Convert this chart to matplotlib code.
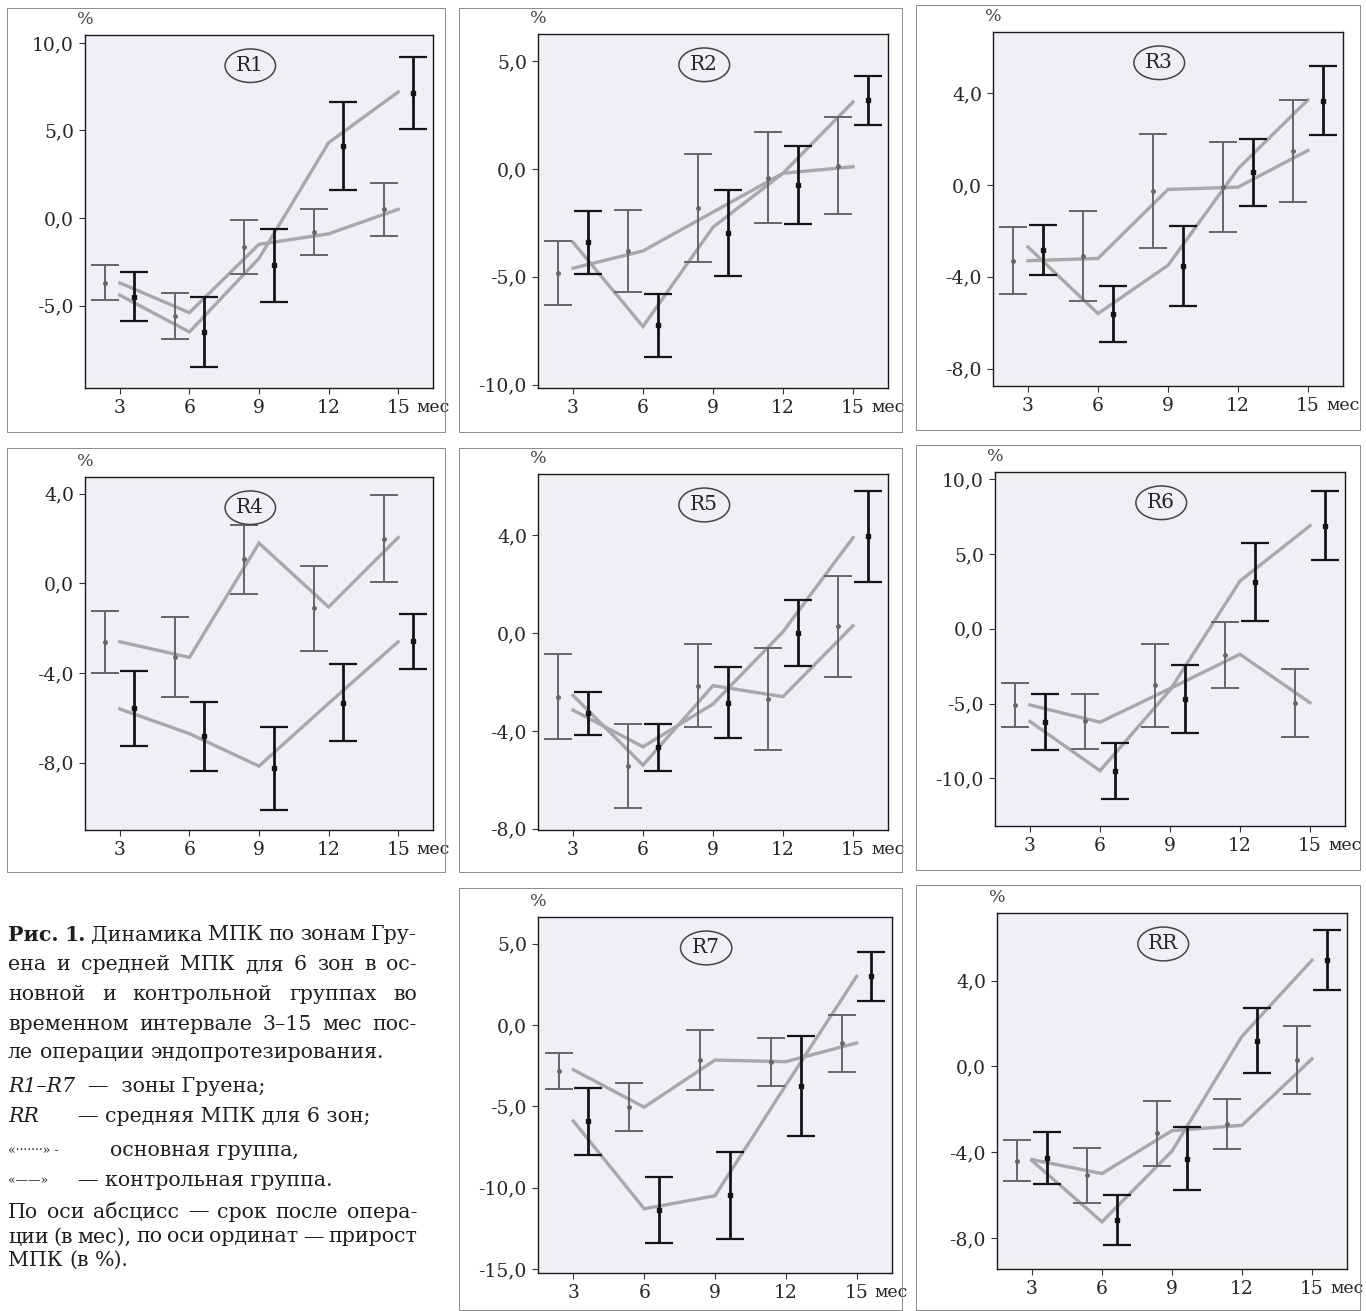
import matplotlib
matplotlib.use("Agg")
import matplotlib.pyplot as plt
from matplotlib.patches import Ellipse, Rectangle

plt.rcParams['font.family'] = ['DejaVu Serif']

W, H = 1366, 1311

months = [3, 6, 9, 12, 15]
x_labels = ["3", "6", "9", "12", "15"]

# ---- R1 ----
r1_ctrl = [-3.7, -5.4, -1.5, -0.9, 0.5]
r1_main = [-4.4, -6.5, -2.3, 4.3, 7.2]
r1_ctrl_lo = [-4.7, -6.9, -3.2, -2.1, -1.0]
r1_ctrl_hi = [-2.7, -4.3, -0.1, 0.5, 2.0]
r1_main_lo = [-5.9, -8.5, -4.8, 1.6, 5.1]
r1_main_hi = [-3.1, -4.5, -0.6, 6.6, 9.2]
r1_yticks = [-5, 0, 5, 10]
# ---- R2 ----
r2_ctrl = [-4.6, -3.8, -2.0, -0.2, 0.1]
r2_main = [-3.4, -7.3, -2.7, -0.2, 3.1]
r2_ctrl_lo = [-6.3, -5.7, -4.3, -2.5, -2.1]
r2_ctrl_hi = [-3.35, -1.9, 0.7, 1.7, 2.4]
r2_main_lo = [-4.85, -8.7, -4.95, -2.55, 2.05]
r2_main_hi = [-1.95, -5.8, -1.0, 1.05, 4.3]
r2_yticks = [-10, -5, 0, 5]
# ---- R3 ----
r3_ctrl = [-3.3, -3.2, -0.2, -0.1, 1.5]
r3_main = [-2.7, -5.6, -3.5, 0.7, 3.7]
r3_ctrl_lo = [-4.75, -5.05, -2.75, -2.05, -0.75]
r3_ctrl_hi = [-1.85, -1.15, 2.2, 1.85, 3.7]
r3_main_lo = [-3.9, -6.85, -5.25, -0.9, 2.15]
r3_main_hi = [-1.75, -4.4, -1.8, 2.0, 5.15]
r3_yticks = [-8, -4, 0, 4]
# ---- R4 ----
r4_ctrl = [-2.6, -3.3, 1.8, -1.05, 2.05]
r4_main = [-5.6, -6.7, -8.15, -5.35, -2.6]
r4_ctrl_lo = [-4.0, -5.05, -0.45, -3.0, 0.05]
r4_ctrl_hi = [-1.25, -1.5, 2.6, 0.8, 3.95]
r4_main_lo = [-7.25, -8.35, -10.1, -7.05, -3.8]
r4_main_hi = [-3.9, -5.3, -6.4, -3.6, -1.35]
r4_yticks = [-8, -4, 0, 4]
# ---- R5 ----
r5_ctrl = [-2.55, -5.4, -2.15, -2.6, 0.3]
r5_main = [-3.15, -4.65, -2.9, 0.05, 3.9]
r5_ctrl_lo = [-4.35, -7.15, -3.85, -4.8, -1.8]
r5_ctrl_hi = [-0.85, -3.7, -0.45, -0.6, 2.35]
r5_main_lo = [-4.15, -5.65, -4.3, -1.35, 2.1]
r5_main_hi = [-2.4, -3.7, -1.4, 1.35, 5.8]
r5_yticks = [-8, -4, 0, 4]
# ---- R6 ----
r6_ctrl = [-5.1, -6.25, -4.0, -1.7, -4.95]
r6_main = [-6.2, -9.5, -4.1, 3.2, 6.9]
r6_ctrl_lo = [-6.55, -8.05, -6.55, -3.95, -7.25]
r6_ctrl_hi = [-3.65, -4.35, -1.0, 0.45, -2.7]
r6_main_lo = [-8.1, -11.4, -6.95, 0.55, 4.6]
r6_main_hi = [-4.35, -7.65, -2.45, 5.75, 9.2]
r6_yticks = [-10, -5, 0, 5, 10]
# ---- R7 ----
r7_ctrl = [-2.75, -5.05, -2.15, -2.25, -1.1]
r7_main = [-5.9, -11.3, -10.5, -3.7, 3.0]
r7_ctrl_lo = [-3.95, -6.5, -4.0, -3.75, -2.9]
r7_ctrl_hi = [-1.7, -3.55, -0.3, -0.8, 0.65]
r7_main_lo = [-8.0, -13.4, -13.15, -6.8, 1.5]
r7_main_hi = [-3.85, -9.35, -7.8, -0.7, 4.5]
r7_yticks = [-15, -10, -5, 0, 5]
# ---- RR ----
rr_ctrl = [-4.35, -5.0, -3.0, -2.75, 0.35]
rr_main = [-4.4, -7.25, -3.95, 1.4, 4.95]
rr_ctrl_lo = [-5.35, -6.35, -4.65, -3.85, -1.3]
rr_ctrl_hi = [-3.45, -3.8, -1.6, -1.5, 1.9]
rr_main_lo = [-5.5, -8.35, -5.75, -0.3, 3.55]
rr_main_hi = [-3.05, -6.0, -2.85, 2.7, 6.35]
rr_yticks = [-8, -4, 0, 4]

panels = [
    ("R1", r1_ctrl, r1_main, r1_ctrl_lo, r1_ctrl_hi, r1_main_lo, r1_main_hi, r1_yticks, (-9.7, 10.45), (85, 433, 35, 388), (7, 8, 445, 432)),
    ("R2", r2_ctrl, r2_main, r2_ctrl_lo, r2_ctrl_hi, r2_main_lo, r2_main_hi, r2_yticks, (-10.15, 6.25), (538, 888, 34, 388), (459, 8, 902, 432)),
    ("R3", r3_ctrl, r3_main, r3_ctrl_lo, r3_ctrl_hi, r3_main_lo, r3_main_hi, r3_yticks, (-8.75, 6.65), (993, 1343, 32, 386), (916, 5, 1360, 430)),
    ("R4", r4_ctrl, r4_main, r4_ctrl_lo, r4_ctrl_hi, r4_main_lo, r4_main_hi, r4_yticks, (-11.0, 4.75), (85, 433, 477, 830), (7, 448, 445, 872)),
    ("R5", r5_ctrl, r5_main, r5_ctrl_lo, r5_ctrl_hi, r5_main_lo, r5_main_hi, r5_yticks, (-8.05, 6.5), (538, 888, 474, 830), (459, 448, 902, 872)),
    ("R6", r6_ctrl, r6_main, r6_ctrl_lo, r6_ctrl_hi, r6_main_lo, r6_main_hi, r6_yticks, (-13.2, 10.5), (995, 1345, 472, 826), (916, 445, 1360, 870)),
    ("R7", r7_ctrl, r7_main, r7_ctrl_lo, r7_ctrl_hi, r7_main_lo, r7_main_hi, r7_yticks, (-15.25, 6.65), (538, 892, 917, 1273), (459, 888, 902, 1310)),
    ("RR", rr_ctrl, rr_main, rr_ctrl_lo, rr_ctrl_hi, rr_main_lo, rr_main_hi, rr_yticks, (-9.45, 7.15), (997, 1347, 913, 1269), (916, 885, 1360, 1310)),
]

LINE_C = "#a8a8a8"
CTRL_C = "#666666"
MAIN_C = "#141414"
TEXT_C = "#262626"
FACE_C = "#eef0f5"
OFF = 0.63

fig = plt.figure(figsize=(W / 100, H / 100), dpi=100)
fig.patch.set_facecolor("white")


def fmt(v):
    return ("%.1f" % v).replace(".", ",")


for (name, ctrl, main, clo, chi, mlo, mhi, yt, ylim, box, frame) in panels:
    fl, ft, fr, fb = frame
    fig.patches.append(Rectangle((fl / W, 1 - fb / H), (fr - fl) / W, (fb - ft) / H,
                                 transform=fig.transFigure, fill=False,
                                 edgecolor="#8a8a8a", lw=0.7))
    l, r, t, b = box
    ax = fig.add_axes([l / W, 1 - b / H, (r - l) / W, (b - t) / H])
    ax.set_facecolor(FACE_C)
    ax.set_xlim(1.5, 16.5)
    ax.set_ylim(*ylim)

    ax.plot(months, ctrl, color=LINE_C, lw=2.4, solid_joinstyle="miter", zorder=2)
    ax.plot(months, main, color=LINE_C, lw=2.4, solid_joinstyle="miter", zorder=2)

    xc = [m - OFF for m in months]
    xm = [m + OFF for m in months]
    cmid = [(a + c) / 2 for a, c in zip(clo, chi)]
    mmid = [(a + c) / 2 for a, c in zip(mlo, mhi)]
    ax.errorbar(xc, cmid, yerr=[[m - a for m, a in zip(cmid, clo)], [c - m for m, c in zip(cmid, chi)]],
                fmt="o", ms=2.5, color=CTRL_C, ecolor=CTRL_C, elinewidth=1.4,
                capsize=10, capthick=1.4, zorder=3)
    ax.errorbar(xm, mmid, yerr=[[m - a for m, a in zip(mmid, mlo)], [c - m for m, c in zip(mmid, mhi)]],
                fmt="s", ms=2.5, color=MAIN_C, ecolor=MAIN_C, elinewidth=2.0,
                capsize=10, capthick=1.6, zorder=4)

    ax.set_xticks(months)
    ax.set_xticklabels(x_labels)
    ax.set_yticks(yt)
    ax.set_yticklabels([fmt(v) for v in yt])
    ax.tick_params(axis="both", direction="out", length=4, width=0.8, colors="#333333",
                   labelsize=13.5, labelcolor=TEXT_C, pad=4)
    for s in ax.spines.values():
        s.set_color("#1a1a1a")
        s.set_linewidth(1.0)

    ax.annotate("мес", xy=(15, 0), xycoords=("data", "axes fraction"),
                xytext=(13, -8), textcoords="offset points", ha="left", va="top",
                fontsize=12.5, color=TEXT_C)
    ax.annotate("%", xy=(0, 1), xycoords="axes fraction", xytext=(0, 5),
                textcoords="offset points", ha="center", va="bottom",
                fontsize=12.5, color="#444444")

    ax.add_patch(Ellipse((0.475, 0.913), 0.145, 0.095, transform=ax.transAxes,
                         fill=False, edgecolor="#444444", lw=1.1, zorder=5))
    ax.text(0.475, 0.913, name, transform=ax.transAxes, ha="center", va="center",
            fontsize=14.5, color=TEXT_C, zorder=6)

# ---- caption ----
renderer = fig.canvas.get_renderer()
CAP_SIZE = 14.8


def measure(s, **kw):
    t = fig.text(0, 0, s, fontsize=CAP_SIZE, **kw)
    w = t.get_window_extent(renderer).width
    t.remove()
    return w


space_w = measure("a a") - measure("aa")


def place_line(words, y, x0, x1=None):
    widths = [measure(w, **kw) for w, kw in words]
    if x1 is not None and len(words) > 1:
        gap = (x1 - x0 - sum(widths)) / (len(words) - 1)
    else:
        gap = space_w
    x = x0
    for (w, kw), wd in zip(words, widths):
        fig.text(x / W, 1 - y / H, w, fontsize=CAP_SIZE, va="center", ha="left",
                 color="#1e1e1e", **kw)
        x += wd + gap


def plain(s):
    return [(w, {}) for w in s.split()]


B = {"fontweight": "bold"}

X0, X1 = 8, 417
place_line([("Рис.", B), ("1.", B)] + plain("Динамика МПК по зонам Гру-"), 935, X0, X1)
place_line(plain("ена и средней МПК для 6 зон в ос-"), 965, X0, X1)
place_line(plain("новной и контрольной группах во"), 995, X0, X1)
place_line(plain("временном интервале 3–15 мес пос-"), 1025, X0, X1)
place_line(plain("ле операции эндопротезирования."), 1053, X0)

fig.text(X0 / W, 1 - 1087 / H, "R1–R7", fontsize=CAP_SIZE, fontstyle="italic",
         va="center", color="#1e1e1e")
fig.text(88 / W, 1 - 1087 / H, "—  зоны Груена;", fontsize=CAP_SIZE, va="center", color="#1e1e1e")
fig.text(X0 / W, 1 - 1117 / H, "RR", fontsize=CAP_SIZE, fontstyle="italic",
         va="center", color="#1e1e1e")
fig.text(78 / W, 1 - 1117 / H, "— средняя МПК для 6 зон;", fontsize=CAP_SIZE, va="center", color="#1e1e1e")
fig.text(X0 / W, 1 - 1150 / H, "«·······» -", fontsize=9, va="center", color="#1e1e1e")
fig.text(110 / W, 1 - 1150 / H, "основная группа,", fontsize=CAP_SIZE, va="center", color="#1e1e1e")
fig.text(X0 / W, 1 - 1180 / H, "«——»", fontsize=9, va="center", color="#1e1e1e")
fig.text(78 / W, 1 - 1180 / H, "— контрольная группа.", fontsize=CAP_SIZE, va="center", color="#1e1e1e")

place_line(plain("По оси абсцисс — срок после опера-"), 1212, X0, X1)
place_line(plain("ции (в мес), по оси ординат — прирост"), 1237, X0, X1)
place_line(plain("МПК (в %)."), 1260, X0)

fig.savefig("out.png", dpi=100, facecolor="white")
